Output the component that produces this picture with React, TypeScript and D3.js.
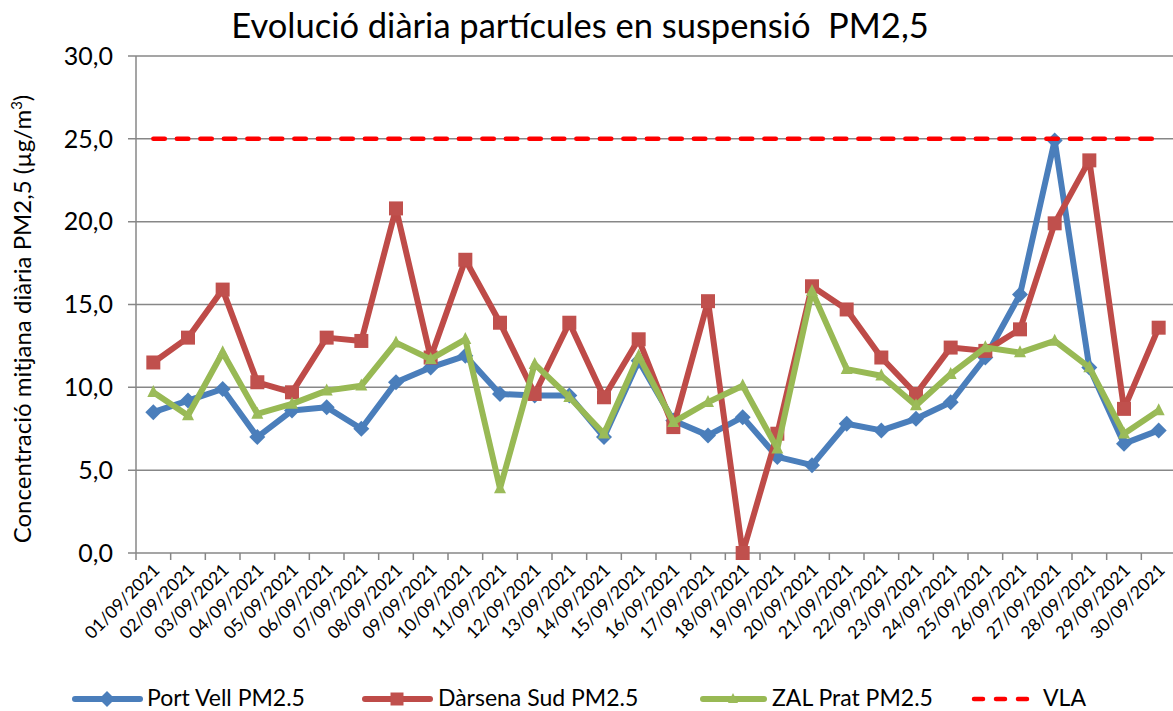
import React from "react";
import * as d3 from "d3";

const days = [
  "01/09/2021","02/09/2021","03/09/2021","04/09/2021","05/09/2021","06/09/2021","07/09/2021","08/09/2021","09/09/2021","10/09/2021",
  "11/09/2021","12/09/2021","13/09/2021","14/09/2021","15/09/2021","16/09/2021","17/09/2021","18/09/2021","19/09/2021","20/09/2021",
  "21/09/2021","22/09/2021","23/09/2021","24/09/2021","25/09/2021","26/09/2021","27/09/2021","28/09/2021","29/09/2021","30/09/2021",
];
const portVell = [8.5,9.2,9.9,7.0,8.6,8.8,7.5,10.3,11.2,11.9,9.6,9.5,9.5,7.0,11.6,8.0,7.1,8.2,5.8,5.3,7.8,7.4,8.1,9.1,11.8,15.6,24.9,11.2,6.6,7.4];
const darsenaSud = [11.5,13.0,15.9,10.3,9.7,13.0,12.8,20.8,11.8,17.7,13.9,9.6,13.9,9.4,12.9,7.6,15.2,0.0,7.2,16.1,14.7,11.8,9.6,12.4,12.2,13.5,19.9,23.7,8.7,13.6];
const zalPrat = [9.7,8.3,12.1,8.4,9.0,9.8,10.1,12.7,11.7,12.9,3.9,11.4,9.4,7.2,11.9,7.9,9.1,10.1,6.3,15.8,11.1,10.7,8.9,10.8,12.4,12.1,12.8,11.2,7.2,8.6];
const vla = days.map(() => 25);
const yTicks = [0, 5, 10, 15, 20, 25, 30];
const seriesNames = ["Port Vell PM2.5", "Dàrsena Sud PM2.5", "ZAL Prat PM2.5", "VLA"];

const FONT = "Lato, 'Open Sans', sans-serif";
const W = 1173, H = 711;
const left = 136, right = 1176, top = 56, bottom = 553;

const BLUE = "#4A7EBB", BLUE_M = "#4A7EBB";
const RED = "#BE4B48", RED_M = "#C0504D";
const GREEN = "#98B954", GREEN_M = "#9BBB59";

function diamond(cx: number, cy: number, r: number) {
  return `M${cx},${cy - r}L${cx + r},${cy}L${cx},${cy + r}L${cx - r},${cy}Z`;
}
function square(cx: number, cy: number, s: number) {
  return `M${cx - s / 2},${cy - s / 2}h${s}v${s}h${-s}Z`;
}
function triangle(cx: number, cy: number, s: number) {
  return `M${cx},${cy - s * 0.6}L${cx + s / 2},${cy + s * 0.4}L${cx - s / 2},${cy + s * 0.4}Z`;
}

export default function App() {
  const x = d3.scaleBand<string>().domain(days).range([left, right]).padding(0);
  const y = d3.scaleLinear().domain([0, 30]).range([bottom, top]);
  const cx = (d: string) => (x(d) as number) + x.bandwidth() / 2;
  const line = d3.line<number>().x((_, i) => cx(days[i])).y((v) => y(v));
  const fmt = (v: number) => v.toFixed(1).replace(".", ",");
  const legY = 699;

  return (
    <svg width={W} height={H} style={{ position: "absolute", left: 0, top: 0, background: "#fff" }} fontFamily={FONT}>
      <rect x={0} y={0} width={W} height={H} fill="#fff" />
      {/* title */}
      <text x={580} y={38} textAnchor="middle" fontSize={34.5} fill="#000" style={{ whiteSpace: "pre" }}>
        {"Evolució diària partícules en suspensió  PM2,5"}
      </text>
      {/* gridlines */}
      {yTicks.map((t) => (
        <line key={t} x1={left - 8} x2={W} y1={y(t)} y2={y(t)} stroke="#878787" strokeWidth={1.5} />
      ))}
      {/* y axis line */}
      <line x1={left} x2={left} y1={top} y2={bottom} stroke="#878787" strokeWidth={1.5} />
      {/* x ticks */}
      {days.map((d) => (
        <line key={d} x1={(x(d) as number)} x2={(x(d) as number)} y1={bottom} y2={bottom + 7} stroke="#878787" strokeWidth={1.5} />
      ))}
      {/* y tick labels */}
      {yTicks.map((t) => (
        <text key={t} x={113} y={y(t)} dy="0.35em" textAnchor="end" fontSize={25} fill="#000">
          {fmt(t)}
        </text>
      ))}
      {/* y axis title */}
      <text transform={`translate(31,${319}) rotate(-90)`} textAnchor="middle" fontSize={24} fill="#000">
        Concentració mitjana diària PM2,5 (µg/m<tspan dy={-9} fontSize={15}>3</tspan><tspan dy={9}>)</tspan>
      </text>
      {/* x labels */}
      {days.map((d) => (
        <text key={d} transform={`translate(${cx(d) + 3},${567}) rotate(-45)`} textAnchor="end" dy="0.35em" fontSize={17.5} fill="#000">
          {d}
        </text>
      ))}
      {/* series */}
      <path d={line(portVell) as string} fill="none" stroke={BLUE} strokeWidth={6} strokeLinejoin="round" />
      {portVell.map((v, i) => (
        <path key={i} d={diamond(cx(days[i]), y(v), 8)} fill={BLUE_M} />
      ))}
      <path d={line(darsenaSud) as string} fill="none" stroke={RED} strokeWidth={6} strokeLinejoin="round" />
      {darsenaSud.map((v, i) => (
        <path key={i} d={square(cx(days[i]), y(v), 14)} fill={RED_M} />
      ))}
      <path d={line(zalPrat) as string} fill="none" stroke={GREEN} strokeWidth={6} strokeLinejoin="round" />
      {zalPrat.map((v, i) => (
        <path key={i} d={triangle(cx(days[i]), y(v), 12)} fill={GREEN_M} />
      ))}
      <path d={line(vla) as string} fill="none" stroke="#FF0000" strokeWidth={4.5} strokeDasharray="11.5 12" strokeLinecap="round" />
      {/* legend */}
      <g fontSize={23} fill="#000">
        <line x1={75} x2={140} y1={legY} y2={legY} stroke={BLUE} strokeWidth={6} strokeLinecap="round" />
        <path d={diamond(107, legY, 8)} fill={BLUE_M} />
        <text x={147} y={706}>{seriesNames[0]}</text>
        <line x1={365} x2={430} y1={legY} y2={legY} stroke={RED} strokeWidth={6} strokeLinecap="round" />
        <path d={square(397, legY, 13)} fill={RED_M} />
        <text x={438} y={706}>{seriesNames[1]}</text>
        <line x1={703} x2={764} y1={legY} y2={legY} stroke={GREEN} strokeWidth={6} strokeLinecap="round" />
        <path d={triangle(733, legY, 10)} fill={GREEN_M} />
        <text x={772} y={706}>{seriesNames[2]}</text>
        <line x1={974} x2={1030} y1={legY} y2={legY} stroke="#FF0000" strokeWidth={4.5} strokeDasharray="9 13" strokeLinecap="round" />
        <text x={1043} y={706}>{seriesNames[3]}</text>
      </g>
    </svg>
  );
}
